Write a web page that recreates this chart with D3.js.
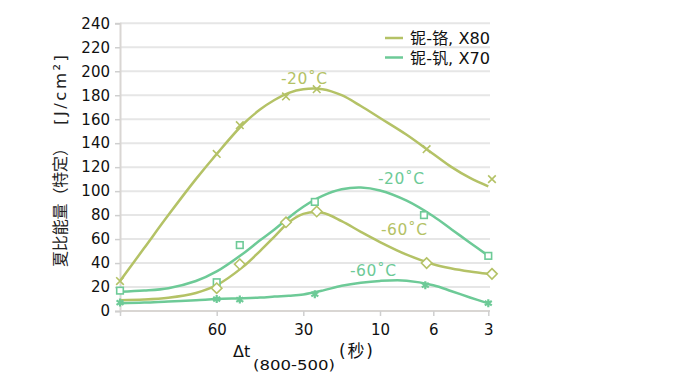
<!DOCTYPE html>
<html><head><meta charset="utf-8">
<script src="https://cdn.jsdelivr.net/npm/d3@7/dist/d3.min.js"></script>
<style>
body{margin:0;background:#fff;}
text{font-family:"DejaVu Sans","Noto Sans CJK SC",sans-serif;}
</style></head><body>
<svg id="c" width="683" height="384"></svg>
<script>
// x values are cooling times Δt(800-500) in seconds; 100 marks the unlabeled left edge
const xTickValues = [100, 60, 30, 10, 6, 3];
const xTickLabels = ["", "60", "30", "10", "6", "3"];
const yTicks = [0,20,40,60,80,100,120,140,160,180,200,220,240];

// measured markers
const nbCrX80_m20_t = [100, 60, 52, 36, 26.5, 6.5, 2.8];
const nbCrX80_m20_v = [25, 131, 155, 179, 185, 135, 110];
const nbVX70_m20_t  = [100, 60, 52, 27, 6.7, 3];
const nbVX70_m20_v  = [17, 24, 55, 91, 80, 46];
const nbCrX80_m60_t = [60, 52, 36, 26.5, 6.5, 2.8];
const nbCrX80_m60_v = [19, 39, 74, 83, 40, 31];
const nbVX70_m60_t  = [100, 60, 52, 27, 6.6, 3];
const nbVX70_m60_v  = [7, 10, 9.5, 14, 21.5, 6.5];

// fitted trend curves
const curveT = [100, 90, 80, 68.6, 60, 50.8, 45, 40, 35, 30, 25, 20, 15, 10, 8, 6, 5, 4, 3];
const curveX80_m20 = [25, 52.5, 80, 110, 131, 156, 168, 176, 182, 185, 185, 180, 171, 161, 147, 131, 120, 111, 104];
const curveX70_m20 = [16, 17, 19, 25, 33, 48, 59, 68, 78, 87, 96, 101.5, 103, 100.5, 92, 79, 68, 57, 46];
const curveX80_m60 = [9, 9.5, 11, 15, 21.5, 37, 50, 62, 74, 81, 82, 75, 66, 57.5, 47, 39, 35.5, 33, 31];
const curveX70_m60 = [6.5, 7, 8, 9, 10, 10.6, 11.2, 12, 12.8, 13.8, 17, 21, 23.6, 25.1, 25.3, 21.5, 16.5, 11.3, 6.4];

const seriesNames = ["铌-铬, X80", "铌-钒, X70"];
const colors = ["#b4c266", "#6dca97"];

const svg = d3.select("#c");
const x = d3.scaleLinear().domain(xTickValues).range([120, 216.7, 303.3, 380, 433.3, 488.3]);
const y = d3.scaleLinear().domain([0, 240]).range([311, 23.3]);

// gridlines
svg.append("g").selectAll("line").data(yTicks.slice(1)).join("line")
  .attr("x1", 120).attr("x2", 490).attr("y1", d=>y(d)).attr("y2", d=>y(d))
  .attr("stroke", "#e6e6e6").attr("stroke-width", 2);

// y axis
const yAxis = svg.append("g").attr("transform","translate(120,0)")
  .call(d3.axisLeft(y).tickValues(yTicks).tickSize(5).tickPadding(5));
yAxis.select(".domain").attr("stroke","#d9d6d3").attr("stroke-width",2);
yAxis.selectAll(".tick line").attr("stroke","#cfcfcf").attr("stroke-width",1.5);
yAxis.selectAll("text").attr("font-size",15).attr("fill","#111").attr("font-family","DejaVu Sans, sans-serif");

// x axis
const xAxis = svg.append("g").attr("transform","translate(0,311)")
  .call(d3.axisBottom(x).tickValues(xTickValues).tickFormat((d,i)=>xTickLabels[i]).tickSize(5).tickSizeOuter(0).tickPadding(8));
xAxis.select(".domain").attr("stroke","#d9d6d3").attr("stroke-width",2).attr("d","M120,0H490");
xAxis.selectAll(".tick line").attr("stroke","#cfcfcf").attr("stroke-width",1.5);
xAxis.selectAll("text").attr("font-size",15).attr("fill","#111").attr("font-family","DejaVu Sans, sans-serif");

// curves
const line = d3.line().x(d=>x(d[0])).y(d=>y(d[1])).curve(d3.curveCatmullRom.alpha(0.5));
const curves = [[curveX80_m20,0],[curveX70_m20,1],[curveX80_m60,0],[curveX70_m60,1]];
curves.forEach(([vals,ci])=>{
  svg.append("path").datum(curveT.map((t,i)=>[t, vals[i]]))
    .attr("d", line)
    .attr("fill","none").attr("stroke",colors[ci]).attr("stroke-width",2.5);
});

// markers
function markers(ts, vs, ci, shape){
  const g = svg.append("g").attr("stroke", colors[ci]).attr("fill","none").attr("stroke-width",1.6);
  ts.forEach((t,i)=>{
    const cx = x(t), cy = y(vs[i]);
    const m = g.append("g").attr("transform",`translate(${cx},${cy})`);
    if(shape==="x"){
      m.append("path").attr("d","M-3.8,-3.8L3.8,3.8M-3.8,3.8L3.8,-3.8");
    } else if(shape==="sq"){
      m.append("rect").attr("x",-3.3).attr("y",-3.3).attr("width",6.6).attr("height",6.6).attr("fill","#fff");
    } else if(shape==="dia"){
      m.append("path").attr("d","M0,-5.2L5.2,0L0,5.2L-5.2,0Z").attr("fill","#fff");
    } else {
      m.append("path").attr("d","M0,-4V4M-3.5,-2.2L3.5,2.2M-3.5,2.2L3.5,-2.2").attr("stroke-width",2.2);
    }
  });
}
markers(nbCrX80_m20_t, nbCrX80_m20_v, 0, "x");
markers(nbVX70_m20_t, nbVX70_m20_v, 1, "sq");
markers(nbCrX80_m60_t, nbCrX80_m60_v, 0, "dia");
markers(nbVX70_m60_t, nbVX70_m60_v, 1, "star");

// curve labels
const labels = [["-20˚C",0,281,84],["-20˚C",1,378,184],["-60˚C",0,381,235],["-60˚C",1,350,276]];
labels.forEach(([t,ci,lx,ly])=>{
  svg.append("text").attr("x",lx).attr("y",ly).attr("fill",colors[ci]).attr("font-size",15.5)
    .attr("textLength",46).attr("lengthAdjust","spacing").text(t);
});

// legend
seriesNames.forEach((n,i)=>{
  const ly = 38 + i*19.5;
  svg.append("line").attr("x1",385).attr("x2",403).attr("y1",ly).attr("y2",ly)
    .attr("stroke",colors[i]).attr("stroke-width",2.5);
  svg.append("text").attr("x",410).attr("y",ly+6).attr("font-size",16).attr("fill","#111")
    .attr("textLength",80).attr("lengthAdjust","spacingAndGlyphs")
    .attr("font-family","Noto Sans CJK SC, sans-serif").text(n);
});

// y title
svg.append("text").attr("transform","translate(66,267) rotate(-90)")
  .attr("font-size",16).attr("fill","#222").attr("textLength",127).attr("lengthAdjust","spacing")
  .attr("font-family","Noto Sans CJK SC, sans-serif")
  .text("夏比能量（特定）");
svg.append("text").attr("transform","translate(66,125) rotate(-90)")
  .attr("font-size",16.5).attr("fill","#222").attr("textLength",70).attr("lengthAdjust","spacing")
  .attr("font-family","DejaVu Sans, sans-serif")
  .text("[J/cm²]");

// x title
svg.append("text").attr("x",233).attr("y",357).attr("font-size",16).attr("fill","#111").text("Δt");
svg.append("text").attr("x",253).attr("y",370).attr("font-size",14.5).attr("fill","#111")
  .attr("textLength",82).attr("lengthAdjust","spacingAndGlyphs").text("(800-500)");
svg.append("text").attr("x",339).attr("y",357).attr("font-size",17).attr("fill","#111")
  .attr("textLength",34).attr("lengthAdjust","spacing")
  .attr("font-family","Noto Sans CJK SC, sans-serif").text("(秒)");
</script>
</body></html>
